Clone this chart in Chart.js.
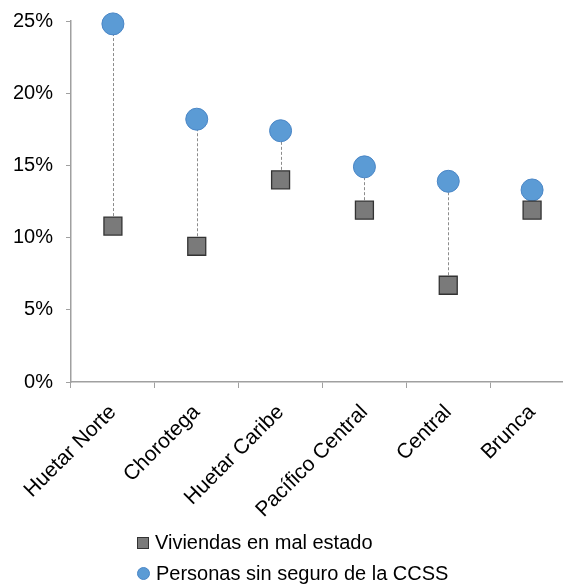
<!DOCTYPE html>
<html>
<head>
<meta charset="utf-8">
<script src="https://cdn.jsdelivr.net/npm/chart.js@4"></script>
<style>
  html, body { margin: 0; padding: 0; background: #fff; overflow: hidden; }
  body { width: 563px; height: 586px; position: relative; font-family: "Liberation Sans", Arial, sans-serif; }
  #chart { position: absolute; left: 0; top: 0; }
  #legend { position: absolute; left: 137px; top: 527px; font-size: 20px; color: #000; line-height: 31px; }
  .item { display: flex; align-items: center; white-space: nowrap; }
  .sq { width: 10px; height: 10px; background: #7a7a7a; border: 1px solid #333; margin-right: 6px; }
  .ci { width: 11px; height: 11px; border-radius: 50%; background: #5b9bd5; border: 1px solid #4a86c6; margin-right: 6px; }
</style>
</head>
<body>
<canvas id="chart" width="574" height="530"></canvas>
<div id="legend">
  <div class="item"><span class="sq"></span>Viviendas en mal estado</div>
  <div class="item"><span class="ci"></span>Personas sin seguro de la CCSS</div>
</div>
<script>
// regiones y porcentajes
const regiones = ['Huetar Norte', 'Chorotega', 'Huetar Caribe', 'Pacífico Central', 'Central', 'Brunca'];
const viviendasMalEstado = [10.8, 9.4, 14.0, 11.9, 6.7, 11.9];
const sinSeguroCCSS = [24.8, 18.2, 17.4, 14.9, 13.9, 13.3];
const yTicks = [0, 5, 10, 15, 20, 25];

// linea punteada entre los dos puntos de cada region
const conectores = {
    id: 'conectores',
    beforeDatasetsDraw(chart) {
        const a = chart.getDatasetMeta(0).data;
        const b = chart.getDatasetMeta(1).data;
        const ctx = chart.ctx;
        ctx.save();
        ctx.strokeStyle = '#8c8c8c';
        ctx.lineWidth = 1;
        ctx.setLineDash([3, 2]);
        for (let i = 0; i < a.length; i++) {
            ctx.beginPath();
            ctx.moveTo(Math.round(a[i].x) + 0.5, a[i].y);
            ctx.lineTo(Math.round(b[i].x) + 0.5, b[i].y);
            ctx.stroke();
        }
        ctx.restore();
    }
};

const fontY = { family: '"Liberation Sans", Arial, sans-serif', size: 20 };
const fontX = { family: '"Liberation Sans", Arial, sans-serif', size: 21 };

new Chart(document.getElementById('chart'), {
    type: 'line',
    data: {
        labels: regiones,
        datasets: [{
            label: 'Viviendas en mal estado',
            data: viviendasMalEstado,
            showLine: false,
            pointStyle: 'rect',
            pointRadius: 12.7,
            pointHoverRadius: 12.7,
            backgroundColor: '#7a7a7a',
            borderColor: '#333333',
            borderWidth: 1.3,
            clip: false
        }, {
            label: 'Personas sin seguro de la CCSS',
            data: sinSeguroCCSS,
            showLine: false,
            pointStyle: 'circle',
            pointRadius: 11,
            pointHoverRadius: 11,
            backgroundColor: '#5b9bd5',
            borderColor: '#4a86c6',
            borderWidth: 1,
            clip: false
        }]
    },
    options: {
        responsive: false,
        animation: false,
        layout: { autoPadding: false, padding: { top: 21, left: 0, right: 0, bottom: 0 } },
        scales: {
            x: {
                offset: true,
                grid: { display: true, drawOnChartArea: false, offset: true, tickLength: 6, color: '#a0a0a0' },
                border: { color: '#a0a0a0', width: 1.5 },
                ticks: { font: fontX, color: '#000', minRotation: 45, maxRotation: 45, padding: 12, autoSkip: false },
                afterFit: s => { s.height = 148; }
            },
            y: {
                min: 0,
                max: 25,
                afterBuildTicks: s => { s.ticks = yTicks.map(v => ({ value: v })); },
                grid: { display: true, drawOnChartArea: false, tickLength: 5, color: '#a0a0a0' },
                border: { color: '#a0a0a0', width: 1.5 },
                ticks: { font: fontY, color: '#000', padding: 13, callback: v => v + '%' },
                afterFit: s => { s.width = 71; s.paddingTop = 0; s.paddingBottom = 0; }
            }
        },
        plugins: {
            legend: { display: false },
            tooltip: { enabled: false }
        }
    },
    plugins: [conectores]
});
</script>
</body>
</html>
